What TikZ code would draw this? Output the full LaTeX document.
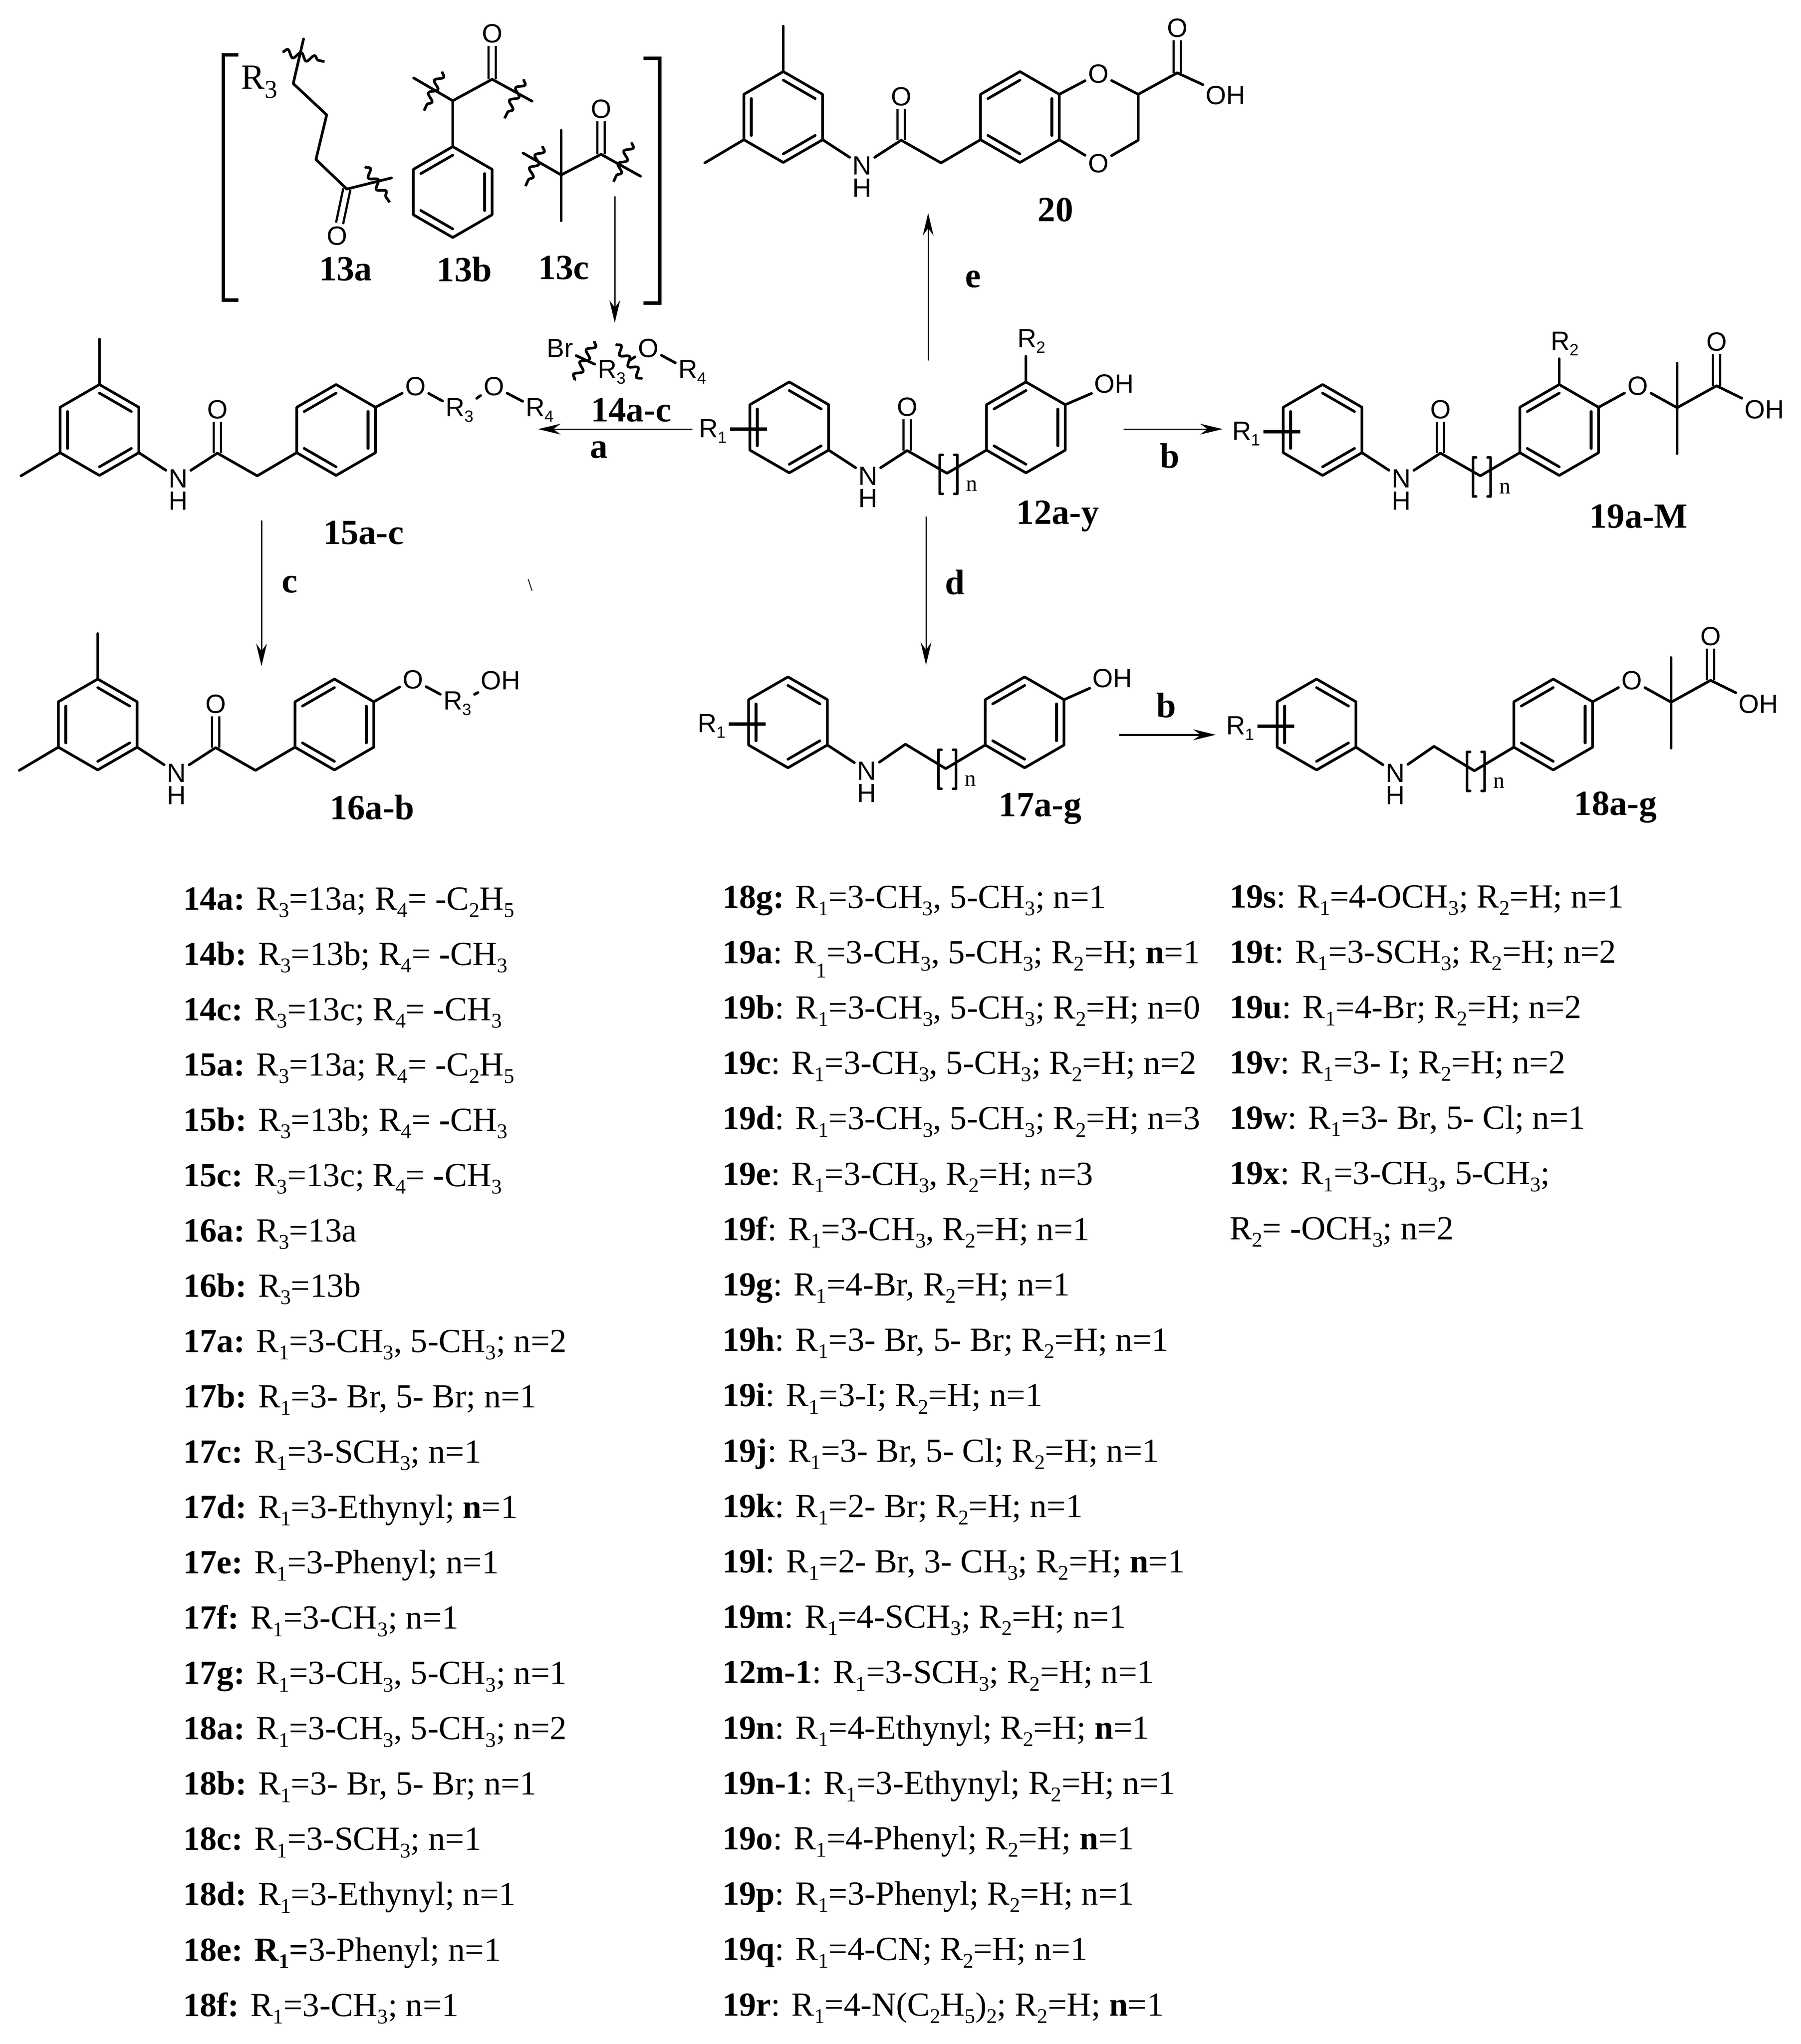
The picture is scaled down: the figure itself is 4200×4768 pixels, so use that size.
\documentclass[tikz,border=0pt]{standalone}
\usepackage{fontspec}
\usepackage{graphicx}
\setmainfont{Liberation Serif}
\newfontfamily\atomfont{Liberation Sans}
\usetikzlibrary{arrows.meta,decorations.pathmorphing}

\newcommand{\dn}[1]{\raisebox{-0.22em}{\scalebox{.62}{#1}}}
\newcommand{\dnlow}[1]{\raisebox{-0.42em}{\scalebox{.62}{#1}}}
\newcommand{\Ra}{R\dn{1}}
\newcommand{\Rb}{R\dn{2}}
\newcommand{\Rc}{R\dn{3}}
\newcommand{\Rd}{R\dn{4}}
\newcommand{\mthl}{CH\dn{3}}

\tikzset{
    bond/.style={line width=1.25pt,line cap=round,line join=round},
    dbond/.style={line width=1.05pt,double,double distance=2.3pt},
    hbond/.style={line width=1.7pt},
    rxn/.style={line width=.6pt,-{Stealth[length=10.5pt,width=5pt]}},
    rxnbold/.style={line width=1pt,-{Stealth[length=10.5pt,width=5pt]}},
    wavy/.style={line width=1.25pt,decorate,decoration={snake,amplitude=1.7pt,segment length=6.5pt}},
    atom/.style={font=\fontsize{12.3}{13}\atomfont,inner sep=1.2pt},
    sfn/.style={font=\fontsize{10.5}{11}\selectfont,inner sep=0pt},
    cpd/.style={font=\fontsize{16.5}{17}\bfseries,inner sep=0pt},
    rthree/.style={font=\fontsize{16.5}{17}\selectfont,inner sep=0pt},
    entry/.style={font=\fontsize{15.75}{17}\selectfont,anchor=base west,inner sep=0pt},
}

% benzene ring: centre x, centre y, angle of the first inner bond
\newcommand{\benzring}[3]{
    \draw[bond] (#1,#2) +(30:106) -- +(90:106) -- +(150:106) -- +(210:106) -- +(270:106) -- +(330:106) -- cycle;
    \foreach \a in {0,120,240}
        \draw[bond] (#1,#2) +(#3+\a:86) -- +(#3+\a+60:86);
}
% two methyl groups on ring A
\newcommand{\dimethyl}{
    \coordinate (rt) at (0,-106);
    \coordinate (rl) at (-92,53);
    \draw[bond] (rt) -- (0,-212);
    \draw[bond] (rl) -- (-183,107);
}
% ring A, amide, ring B
\newcommand{\amidelink}{
    \benzring{0}{0}{30}
    \benzring{552}{0}{90}
    \node[atom] (N) at (184,113) {N};
    \node[atom] (H) at (184,165) {H};
    \node[atom] (O) at (275,-48) {O};
    \coordinate (p1) at (92,53);
    \coordinate (p2) at (275,54);
    \coordinate (p3) at (368,107);
    \coordinate (p4) at (460,53);
    \draw[dbond] (p2) -- (O);
    \draw[bond] (p1) -- (N);
    \draw[bond] (N) -- (p2) -- (p3) -- (p4);
}
% ring A, amine, ring B
\newcommand{\aminelink}{
    \benzring{0}{0}{30}
    \benzring{552}{0}{90}
    \node[atom] (N) at (184,113) {N};
    \node[atom] (H) at (184,165) {H};
    \coordinate (p1) at (92,53);
    \coordinate (p2) at (274,51);
    \coordinate (p3) at (368,108);
    \coordinate (p4) at (460,53);
    \draw[bond] (p1) -- (N);
    \draw[bond] (N) -- (p2) -- (p3) -- (p4);
}
% R1 on ring A and the n brackets
\newcommand{\roneN}{
    \node[atom] (Ra) at (-178,9) {\Ra};
    \coordinate (rx) at (-52,4);
    \draw[hbond] (Ra.east |- rx) -- (rx);
    \draw[bond] (358,64) -- (351,64) -- (351,155) -- (358,155);
    \draw[bond] (385,64) -- (392,64) -- (392,155) -- (385,155);
    \node[sfn] (nn) at (426,136) {n};
}
% R2 on ring B
\newcommand{\rtwo}{
    \node[atom] (Rb) at (565,-201) {\Rb};
    \coordinate (bt) at (552,-106);
    \draw[bond] (bt) -- (bt |- Rb.south);
}
% oxy-isobutyric acid on ring B
\newcommand{\ibacid}{
    \coordinate (bu) at (644,-53);
    \coordinate (q) at (827,-52);
    \coordinate (k) at (919,-103);
    \node[atom] (E) at (735,-103) {O};
    \node[atom] (Ok) at (919,-206) {O};
    \node[atom] (OH) at (1031,-48) {OH};
    \draw[dbond] (k) -- (Ok);
    \draw[bond] (bu) -- (E) -- (q) -- (k) -- (OH);
    \draw[bond] (827,-156) -- (827,55);
}

\begin{document}
\begin{tikzpicture}[x=0.2pt,y=-0.2pt]
\useasboundingbox (0,0) rectangle (4200,4768);

% square brackets
\draw[line width=1.6pt] (556,128) -- (521,128) -- (521,700) -- (556,700);
\draw[line width=1.6pt] (1501,136) -- (1539,136) -- (1539,707) -- (1501,707);

% 13a
\coordinate (a1) at (708,91);
\coordinate (a2) at (684,195);
\coordinate (a3) at (762,268);
\coordinate (a4) at (737,372);
\coordinate (a5) at (809,441);
\coordinate (a6) at (913,415);
\node[rthree] (aR) at (605,191) {R\raisebox{-.25em}{\scalebox{.72}{3}}};
\node[atom] (aO) at (786,550) {O};
\draw[dbond] (a5) -- (aO);
\draw[bond] (a1) -- (a2) -- (a3) -- (a4) -- (a5) -- (a6);
\draw[wavy] (659,121) -- (757,144);
\draw[wavy] (851,389) -- (909,472);
\node[cpd] (l13a) at (806,628) {13a};

% 13b
\coordinate (b1) at (965,182);
\coordinate (b2) at (1056,235);
\coordinate (b3) at (1148,185);
\coordinate (b4) at (1241,236);
\node[atom] (bO) at (1148,78) {O};
\draw[dbond] (b3) -- (bO);
\draw[bond] (b1) -- (b2) -- (b3) -- (b4);
\draw[bond] (b2) -- (1056,342);
\benzring{1056}{448}{90}
\draw[wavy] (1032,167) -- (989,258);
\draw[wavy] (1222,185) -- (1177,276);
\node[cpd] (l13b) at (1083,628) {13b};

% 13c
\coordinate (c1) at (1220,357);
\coordinate (c2) at (1309,408);
\coordinate (c3) at (1402,360);
\coordinate (c4) at (1494,411);
\node[atom] (cO) at (1402,254) {O};
\draw[dbond] (c3) -- (cO);
\draw[bond] (c1) -- (c2) -- (c3) -- (c4);
\draw[bond] (1309,304) -- (1309,515);
\draw[wavy] (1266,341) -- (1226,434);
\draw[wavy] (1474,332) -- (1431,424);
\node[cpd] (l13c) at (1315,625) {13c};

% 14a-c
\node[atom] (Br) at (1306,812) {Br};
\node[atom] (xR3) at (1427,868) {\Rc};
\node[atom] (xO) at (1512,812) {O};
\node[atom] (xR4) at (1615,868) {\Rd};
\draw[bond] (Br) -- (xR3) -- (xO) -- (xR4);
\draw[wavy] (1387,796) -- (1340,887);
\draw[wavy] (1436,803) -- (1498,884);
\node[cpd] (l14) at (1472,957) {14a-c};

% 15a-c
\begin{scope}[shift={(232,1003)},name prefix=f-]
    \amidelink
    \dimethyl
    \coordinate (bu) at (644,-53);
    \node[atom] (E) at (737,-102) {O};
    \node[atom] (R3) at (840,-46) {\Rc};
    \node[atom] (E2) at (920,-102) {O};
    \node[atom] (R4) at (1027,-46) {\Rd};
    \draw[bond] (bu) -- (E) -- (R3) -- (E2) -- (R4);
\end{scope}
\node[cpd] (l15) at (848,1243) {15a-c};

% 16a-b
\begin{scope}[shift={(228,1690)},name prefix=g-]
    \amidelink
    \dimethyl
    \coordinate (bu) at (644,-53);
    \node[atom] (E) at (735,-105) {O};
    \node[atom] (R3) at (839,-49) {\Rc};
    \node[atom] (OH) at (940,-103) {OH};
    \draw[bond] (bu) -- (E) -- (R3) -- (OH);
\end{scope}
\node[cpd] (l16) at (868,1883) {16a-b};

% 20
\begin{scope}[shift={(1827,273)},name prefix=t-]
    \amidelink
    \dimethyl
    \coordinate (bu) at (644,-53);
    \coordinate (bl) at (644,53);
    \coordinate (s1) at (828,-53);
    \coordinate (s2) at (828,54);
    \coordinate (k) at (919,-103);
    \node[atom] (O1) at (735,-101) {O};
    \node[atom] (O2) at (735,108) {O};
    \node[atom] (Ok) at (919,-208) {O};
    \node[atom] (OH) at (1032,-51) {OH};
    \draw[dbond] (k) -- (Ok);
    \draw[bond] (bu) -- (O1) -- (s1) -- (k) -- (OH);
    \draw[bond] (s1) -- (s2) -- (O2) -- (bl);
\end{scope}
\node[cpd] (l20) at (2462,489) {20};

% 12a-y
\begin{scope}[shift={(1841,997)},name prefix=m-]
    \amidelink
    \roneN
    \rtwo
    \coordinate (bu) at (644,-53);
    \node[atom] (OH) at (758,-102) {OH};
    \draw[bond] (bu) -- (OH);
\end{scope}
\node[cpd] (l12) at (2467,1204) {12a-y};

% 19a-M
\begin{scope}[shift={(3085,1003)},name prefix=n-]
    \amidelink
    \roneN
    \rtwo
    \ibacid
\end{scope}
\node[cpd] (l19) at (3822,1205) {19a-M};

% 17a-g
\begin{scope}[shift={(1838,1685)},name prefix=u-]
    \aminelink
    \roneN
    \coordinate (bu) at (644,-53);
    \node[atom] (OH) at (757,-103) {OH};
    \draw[bond] (bu) -- (OH);
\end{scope}
\node[cpd] (l17) at (2426,1886) {17a-g};

% 18a-g
\begin{scope}[shift={(3071,1690)},name prefix=v-]
    \aminelink
    \roneN
    \ibacid
\end{scope}
\node[cpd] (l18) at (3768,1883) {18a-g};

% arrows
\coordinate (s13) at (1434,458);
\coordinate (e13) at (1434,753);
\coordinate (sa) at (1615,1001);
\coordinate (ea) at (1255,1001);
\coordinate (sb) at (2621,1001);
\coordinate (eb) at (2852,1001);
\coordinate (sc) at (610,1214);
\coordinate (ec) at (610,1554);
\coordinate (sd) at (2160,1205);
\coordinate (ed) at (2160,1551);
\coordinate (se) at (2165,841);
\coordinate (ee) at (2165,497);
\coordinate (sf) at (2611,1714);
\coordinate (ef) at (2836,1714);
\draw[rxn] (s13) -- (e13);
\draw[rxn] (sa) -- (ea);
\draw[rxn] (sb) -- (eb);
\draw[rxn] (sc) -- (ec);
\draw[rxn] (sd) -- (ed);
\draw[rxn] (se) -- (ee);
\draw[rxnbold] (sf) -- (ef);
\node[cpd] (la) at (1397,1050) {a};
\node[cpd] (lb) at (2728,1063) {b};
\node[cpd] (lc) at (676,1363) {c};
\node[cpd] (ld) at (2227,1358) {d};
\node[cpd] (le) at (2270,651) {e};
\node[cpd] (lf) at (2720,1645) {b};
\draw[line width=.4pt] (1232,1351) -- (1241,1378);

% first list
\foreach \txt [count=\k from 0] in {
    {\textbf{14a:} \Rc=13a; \Rd= -C\dn{2}H\dn{5}},
    {\textbf{14b:} \Rc=13b; \Rd= \textbf{-}\mthl},
    {\textbf{14c:} \Rc=13c; \Rd= \textbf{-}\mthl},
    {\textbf{15a:} \Rc=13a; \Rd= -C\dn{2}H\dn{5}},
    {\textbf{15b:} \Rc=13b; \Rd= \textbf{-}\mthl},
    {\textbf{15c:} \Rc=13c; \Rd= \textbf{-}\mthl},
    {\textbf{16a:} \Rc=13a},
    {\textbf{16b:} \Rc=13b},
    {\textbf{17a:} \Ra=3-\mthl, 5-\mthl; n=2},
    {\textbf{17b:} \Ra=3- Br, 5- Br; n=1},
    {\textbf{17c:} \Ra=3-S\mthl; n=1},
    {\textbf{17d:} \Ra=3-Ethynyl; \textbf{n}=1},
    {\textbf{17e:} \Ra=3-Phenyl; n=1},
    {\textbf{17f:} \Ra=3-\mthl; n=1},
    {\textbf{17g:} \Ra=3-\mthl, 5-\mthl; n=1},
    {\textbf{18a:} \Ra=3-\mthl, 5-\mthl; n=2},
    {\textbf{18b:} \Ra=3- Br, 5- Br; n=1},
    {\textbf{18c:} \Ra=3-S\mthl; n=1},
    {\textbf{18d:} \Ra=3-Ethynyl; n=1},
    {\textbf{18e:} \textbf{\Ra=}3-Phenyl; n=1},
    {\textbf{18f:} \Ra=3-\mthl; n=1}}
    \node[entry] (colA\k) at (426,2122+129.05*\k) {\txt};

% second list
\foreach \txt [count=\k from 0] in {
    {\textbf{18g:} \Ra=3-\mthl, 5-\mthl; n=1},
    {\textbf{19a}: R\dnlow{1}=3-\mthl, 5-\mthl; \Rb=H; \textbf{n}=1},
    {\textbf{19b}: \Ra=3-\mthl, 5-\mthl; \Rb=H; n=0},
    {\textbf{19c}: \Ra=3-\mthl, 5-\mthl; \Rb=H; n=2},
    {\textbf{19d}: \Ra=3-\mthl, 5-\mthl; \Rb=H; n=3},
    {\textbf{19e}: \Ra=3-\mthl, \Rb=H; n=3},
    {\textbf{19f}: \Ra=3-\mthl, \Rb=H; n=1},
    {\textbf{19g}: \Ra=4-Br, \Rb=H; n=1},
    {\textbf{19h}: \Ra=3- Br, 5- Br; \Rb=H; n=1},
    {\textbf{19i}: \Ra=3-I; \Rb=H; n=1},
    {\textbf{19j}: \Ra=3- Br, 5- Cl; \Rb=H; n=1},
    {\textbf{19k}: \Ra=2- Br; \Rb=H; n=1},
    {\textbf{19l}: \Ra=2- Br, 3- \mthl; \Rb=H; \textbf{n}=1},
    {\textbf{19m}: \Ra=4-S\mthl; \Rb=H; n=1},
    {\textbf{12m-1}: \Ra=3-S\mthl; \Rb=H; n=1},
    {\textbf{19n}: \Ra=4-Ethynyl; \Rb=H; \textbf{n}=1},
    {\textbf{19n-1}: \Ra=3-Ethynyl; \Rb=H; n=1},
    {\textbf{19o}: \Ra=4-Phenyl; \Rb=H; \textbf{n}=1},
    {\textbf{19p}: \Ra=3-Phenyl; \Rb=H; n=1},
    {\textbf{19q}: \Ra=4-CN; \Rb=H; n=1},
    {\textbf{19r}: \Ra=4-N(C\dn{2}H\dn{5})\dn{2}; \Rb=H; \textbf{n}=1}}
    \node[entry] (colB\k) at (1684,2118+129.2*\k) {\txt};

% third list
\foreach \txt [count=\k from 0] in {
    {\textbf{19s}: \Ra=4-O\mthl; \Rb=H; n=1},
    {\textbf{19t}: \Ra=3-S\mthl; \Rb=H; n=2},
    {\textbf{19u}: \Ra=4-Br; \Rb=H; n=2},
    {\textbf{19v}: \Ra=3- I; \Rb=H; n=2},
    {\textbf{19w}: \Ra=3- Br, 5- Cl; n=1},
    {\textbf{19x}: \Ra=3-\mthl, 5-\mthl;},
    {\Rb= \textbf{-}O\mthl; n=2}}
    \node[entry] (colC\k) at (2867,2117+129*\k) {\txt};
\end{tikzpicture}
\end{document}
